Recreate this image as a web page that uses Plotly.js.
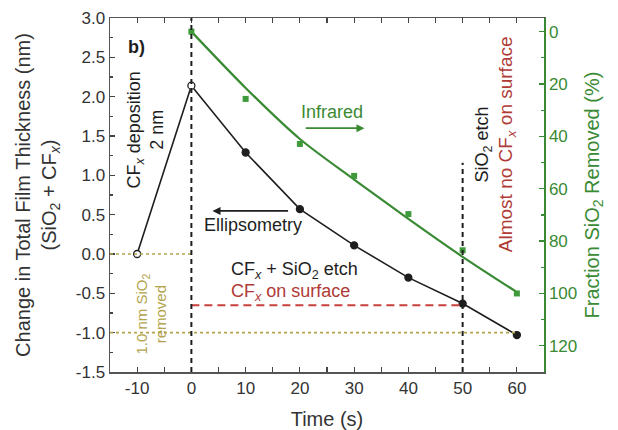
<!DOCTYPE html>
<html><head><meta charset="utf-8">
<script src="https://cdn.plot.ly/plotly-3.0.1.min.js"></script>
<style>html,body{margin:0;padding:0;background:#fff}</style>
</head><body><div id="chart" style="width:618px;height:430px"></div>
<script>
// Ellipsometry: change in total film thickness (nm)
const timeEllip = [-10, 0, 10, 20, 30, 40, 50, 60];
const thicknessEllip = [0.0, 2.14, 1.29, 0.57, 0.11, -0.30, -0.63, -1.03];
// Infrared: fraction SiO2 removed (%)
const timeIR = [0, 10, 20, 30, 40, 50, 60];
const fractionIR = [0, 25.7, 42.9, 55.1, 69.7, 83.5, 100];
// Infrared fit curve
const timeFit = [0, 10, 20, 30, 40, 50, 60];
const fractionFit = [0, 21.5, 41, 56.5, 71.5, 86, 99.5];
// tick labels
const xTickVals = [-10, 0, 10, 20, 30, 40, 50, 60];
const xTickText = ['-10', '0', '10', '20', '30', '40', '50', '60'];
const yTickVals = [-1.5, -1.0, -0.5, 0.0, 0.5, 1.0, 1.5, 2.0, 2.5, 3.0];
const yTickText = ['-1.5', '-1.0', '-0.5', '0.0', '0.5', '1.0', '1.5', '2.0', '2.5', '3.0'];
const y2TickVals = [0, 20, 40, 60, 80, 100, 120];
const y2TickText = ['0', '20', '40', '60', '80', '100', '120'];
// reference levels
const depositionTime = 0, etchEndTime = 50;
const cfxLevel = -0.65, zeroLevel = 0.0, removedLevel = -1.0;
const etchLineTop = 1.16;
const xRange = [-15, 65];
const yRange = [-1.5, 3.0];
const y2Range = [130, -5.2];

const FONT = 'Liberation Sans, Arial, Helvetica, sans-serif';
const BLACK = '#1e1e1e', GREEN = '#3a8a34', RED = '#b03a36', OLIVE = '#b3a44c';

const traces = [
  {x: timeFit, y: fractionFit, yaxis: 'y2', mode: 'lines', type: 'scatter',
   line: {color: GREEN, width: 2.2, shape: 'spline', smoothing: 0.8}, hoverinfo: 'skip'},
  {x: timeIR, y: fractionIR, yaxis: 'y2', mode: 'markers', type: 'scatter',
   marker: {symbol: 'square', size: 6, color: '#3f9a3c'}},
  {x: timeEllip, y: thicknessEllip, mode: 'lines+markers', type: 'scatter',
   line: {color: BLACK, width: 1.6},
   marker: {symbol: 'circle', size: 7,
            color: timeEllip.map(t => t <= depositionTime ? '#ffffff' : BLACK),
            line: {color: BLACK, width: 1.3}}}
];

const shapes = [
  {type: 'line', xref: 'x', yref: 'y', x0: xRange[0], x1: depositionTime, y0: zeroLevel, y1: zeroLevel,
   line: {color: OLIVE, width: 1.6, dash: 'dot'}},
  {type: 'line', xref: 'x', yref: 'y', x0: xRange[0], x1: 60, y0: removedLevel, y1: removedLevel,
   line: {color: OLIVE, width: 1.6, dash: 'dot'}},
  {type: 'line', xref: 'x', yref: 'y', x0: depositionTime, x1: etchEndTime, y0: cfxLevel, y1: cfxLevel,
   line: {color: '#c8403c', width: 2, dash: '8px,5px'}},
  {type: 'line', xref: 'x', yref: 'y', x0: depositionTime, x1: depositionTime, y0: yRange[0], y1: yRange[1],
   line: {color: BLACK, width: 2, dash: '5px,4px'}},
  {type: 'line', xref: 'x', yref: 'y', x0: etchEndTime, x1: etchEndTime, y0: yRange[0], y1: etchLineTop,
   line: {color: BLACK, width: 2, dash: '5px,4px'}}
];

const ann = (text, x, y, extra) => Object.assign({text, x, y, xref: 'x', yref: 'y', showarrow: false,
  font: {family: FONT, size: 18, color: BLACK}}, extra || {});

const annotations = [
  ann('<b>b)</b>', -10.05, 2.63),
  ann('CF<sub><i>x</i></sub> deposition<br>2 nm', -8.4, 1.58, {textangle: -90}),
  ann('Ellipsometry', 11.3, 0.37),
  {x: 3.9, y: 0.548, ax: 18.1, ay: 0.548, xref: 'x', yref: 'y', axref: 'x', ayref: 'y', text: '',
   showarrow: true, arrowhead: 2, arrowsize: 1, arrowwidth: 1.6, arrowcolor: BLACK},
  ann('Infrared', 26.0, 1.81, {font: {family: FONT, size: 18, color: GREEN}}),
  {x: 31.9, y: 1.60, ax: 20.8, ay: 1.60, xref: 'x', yref: 'y', axref: 'x', ayref: 'y', text: '',
   showarrow: true, arrowhead: 2, arrowsize: 1, arrowwidth: 1.6, arrowcolor: GREEN},
  ann('CF<sub><i>x</i></sub> + SiO<sub>2</sub> etch', 19.0, -0.21),
  ann('CF<sub><i>x</i></sub> on surface', 18.3, -0.49, {font: {family: FONT, size: 18, color: RED}}),
  ann('1.0 nm SiO<sub>2</sub><br>removed', -7.3, -0.76, {textangle: -90, font: {family: FONT, size: 15, color: OLIVE}}),
  ann('SiO<sub>2</sub> etch', 53.9, 1.39, {textangle: -90}),
  ann('Almost no CF<sub><i>x</i></sub> on surface', 58.1, 1.39, {textangle: -90, font: {family: FONT, size: 19, color: RED}})
];

const layout = {
  width: 618, height: 430,
  margin: {l: 110, r: 74, t: 18, b: 58},
  paper_bgcolor: '#ffffff', plot_bgcolor: '#ffffff',
  showlegend: false,
  font: {family: FONT, size: 17, color: '#333'},
  xaxis: {range: xRange, tickmode: 'array', tickvals: xTickVals, ticktext: xTickText,
    ticks: 'inside', ticklen: 5, tickwidth: 1.2,
    tickcolor: '#444', showline: true, linecolor: '#555', linewidth: 1.5, mirror: 'allticks',
    showgrid: false, zeroline: false,
    minor: {tick0: -15, dtick: 5, ticks: 'inside', ticklen: 3, tickcolor: '#444', showgrid: false},
    tickfont: {family: FONT, size: 17, color: '#333'},
    title: {text: 'Time (s)', font: {family: FONT, size: 20, color: '#333'}, standoff: 16}},
  yaxis: {range: yRange, tickmode: 'array', tickvals: yTickVals, ticktext: yTickText,
    ticks: 'inside', ticklen: 5, tickwidth: 1.2,
    tickcolor: '#444', showline: true, linecolor: '#555', linewidth: 1.5,
    showgrid: false, zeroline: false,
    minor: {tick0: 0, dtick: 0.25, ticks: 'inside', ticklen: 3, tickcolor: '#444', showgrid: false},
    tickfont: {family: FONT, size: 17, color: '#333'},
    title: {text: 'Change in Total Film Thickness (nm)<br>(SiO<sub>2</sub> + CF<sub><i>x</i></sub>)',
      font: {family: FONT, size: 20, color: '#333'}, standoff: 14}},
  yaxis2: {overlaying: 'y', side: 'right', range: y2Range, autorange: false,
    tickmode: 'array', tickvals: y2TickVals, ticktext: y2TickText,
    ticks: 'inside', ticklen: 5, tickwidth: 1.2, tickcolor: GREEN,
    showline: true, linecolor: GREEN, linewidth: 1.5, showgrid: false, zeroline: false,
    minor: {tick0: 0, dtick: 10, ticks: 'inside', ticklen: 3, tickcolor: GREEN, showgrid: false},
    tickfont: {family: FONT, size: 17, color: GREEN},
    title: {text: 'Fraction SiO<sub>2</sub> Removed (%)', font: {family: FONT, size: 20, color: GREEN}, standoff: 8}},
  shapes, annotations
};

Plotly.newPlot('chart', traces, layout, {staticPlot: true, displayModeBar: false});
</script></body></html>
